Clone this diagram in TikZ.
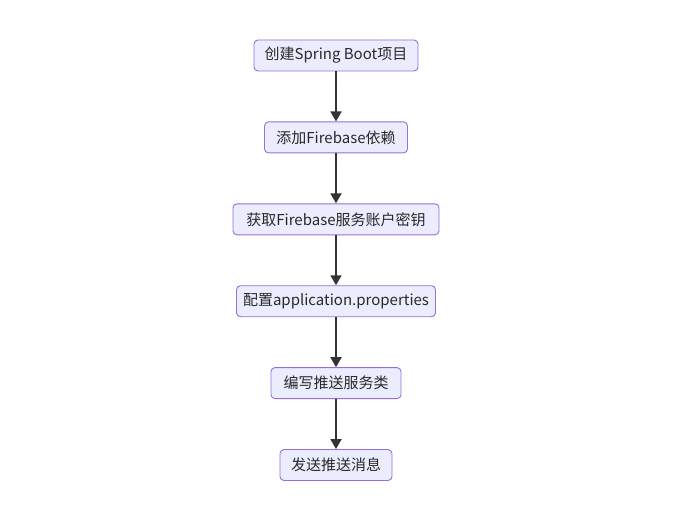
\documentclass[tikz,border=0pt]{standalone}
\usepackage{fontspec}
\setmainfont{Noto Sans CJK SC}
\usepackage{tikz}
\usetikzlibrary{arrows.meta, positioning}
\definecolor{boxfill}{HTML}{ECECFF}
\definecolor{boxline}{HTML}{9370DB}
\definecolor{arrowgray}{HTML}{333333}

\begin{document}
\begin{tikzpicture}[x=1pt, y=1pt,
    stepbox/.style={draw=boxline, fill=boxfill, rounded corners=4pt, line width=0.9pt,
        minimum height=31pt, inner xsep=0pt, font=\fontsize{15}{16}\selectfont, text=arrowgray!80!black},
    flow/.style={draw=arrowgray, line width=1.8pt, -{Triangle[width=11pt,length=10pt]}},
    node distance=50pt]
    \useasboundingbox (0,0) rectangle (684,-513);

    % Steps
    \node[stepbox, minimum width=164pt] (create) at (336,-55.5) {创建Spring Boot项目};
    \node[stepbox, minimum width=143pt, below=of create] (dep) {添加Firebase依赖};
    \node[stepbox, minimum width=206pt, below=of dep] (key) {获取Firebase服务账户密钥};
    \node[stepbox, minimum width=199pt, below=of key] (conf) {配置application.properties};
    \node[stepbox, minimum width=130pt, below=of conf] (svc) {编写推送服务类};
    \node[stepbox, minimum width=112pt, below=of svc] (send) {发送推送消息};

    % Arrows
    \foreach \from/\to in {create/dep, dep/key, key/conf, conf/svc, svc/send}
        \draw[flow] (\from) -- (\to);
\end{tikzpicture}
\end{document}
